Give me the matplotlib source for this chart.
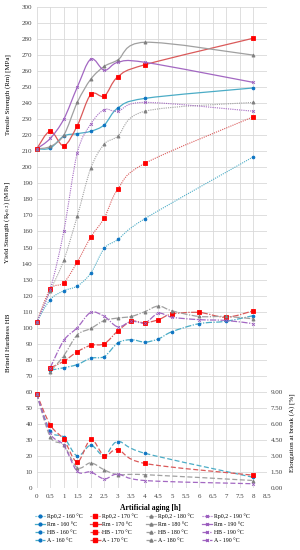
import numpy as np
import matplotlib
matplotlib.use("Agg")
import matplotlib.pyplot as plt
from matplotlib.path import Path
from matplotlib.patches import PathPatch
from matplotlib.lines import Line2D

plt.rcParams['font.family'] = ['Liberation Serif', 'DejaVu Serif']
plt.rcParams['mathtext.fontset'] = 'stix'

# ---------------- data ----------------
t = [0, 0.5, 1, 1.5, 2, 2.5, 3, 4, 8]
t_hb = [0.5, 1, 1.5, 2, 2.5, 3, 3.5, 4, 4.5, 5, 6, 7, 8]
temps = ['160', '170', '180', '190']

rm_160 = [211.5, 212, 219.5, 221, 222.5, 226.5, 237, 243, 249.5]
rm_170 = [211.5, 222.5, 213.5, 226, 245.5, 244.5, 256.5, 264, 280.5]
rm_180 = [211.5, 213, 220, 240.5, 255, 263, 267, 278, 270]
rm_190 = [211.5, 218, 230, 250, 267.5, 260.5, 265.5, 265.5, 253]

rp_160 = [103.5, 117.5, 123, 126, 134, 149.5, 155, 168, 206.5]
rp_170 = [103.5, 124, 128, 141, 156.5, 168.5, 186.5, 202.5, 231.5]
rp_180 = [103.5, 123, 142, 169.5, 199.5, 214.5, 219.5, 235, 240.5]
rp_190 = [103.5, 124, 160, 209, 227, 236, 235, 240.5, 235]

hb_160 = [73.5, 75, 77, 81, 82, 90.5, 92.5, 91, 93, 97.5, 102.5, 104, 107.5]
hb_170 = [75, 79, 85, 89, 90, 98, 104, 103, 105, 108.5, 109.5, 106.5, 110.5]
hb_180 = [72.5, 82.5, 95.5, 99.5, 104.5, 106, 107, 110, 113.5, 110.5, 107, 107, 105.5]
hb_190 = [75, 92, 100, 109.5, 107, 100.5, 104, 103, 109, 106.5, 105, 104.5, 102.5]

a_160 = [8.8, 5.35, 4.75, 3.0, 4.0, 3.0, 4.35, 3.25, 1.0]
a_170 = [8.8, 5.9, 4.55, 2.45, 4.55, 3.0, 3.6, 2.3, 1.2]
a_180 = [8.8, 4.8, 4.0, 1.9, 2.35, 1.7, 1.25, 1.25, 0.7]
a_190 = [8.8, 5.1, 4.0, 1.55, 1.5, 0.85, 1.3, 0.7, 0.4]

x_ticks = [0, 0.5, 1, 1.5, 2, 2.5, 3, 3.5, 4, 4.5, 5, 5.5, 6, 6.5, 7, 7.5, 8, 8.5]
a_ticks = [0, 1.5, 3, 4.5, 6, 7.5, 9]

# ---------------- styles ----------------
line_col = {'160': '#4BACC6', '170': '#DA5A5A', '180': '#A0A0A0', '190': '#A368C2'}
mark_col = {'160': '#0A72C2', '170': '#FF0000', '180': '#7F7F7F', '190': '#9A5CBE'}
mark = {'160': 'o', '170': 's', '180': '^', '190': 'x'}
msize = {'160': 2.0, '170': 3.2, '180': 2.2, '190': 2.0}
styles = {'Rp0,2': ((0, (1, 1)), 0.8), 'Rm': ('-', 0.9),
          'HB': ((0, (5, 1.2, 1, 1.2)), 0.9), 'A': ((0, (4, 2)), 0.9)}


def smooth_path(x, y):
    p = np.column_stack([x, y]).astype(float)
    n = len(p)
    verts = [p[0]]
    codes = [Path.MOVETO]
    for i in range(n - 1):
        p0 = p[i - 1] if i > 0 else p[i]
        p1, p2 = p[i], p[i + 1]
        p3 = p[i + 2] if i + 2 < n else p[i + 1]
        c1 = p1 + (p2 - p0) / 6.0
        c2 = p2 - (p3 - p1) / 6.0
        verts += [c1, c2, p2]
        codes += [Path.CURVE4] * 3
    return Path(verts, codes)


def draw(ax, x, y, temp, kind):
    ls, lw = styles[kind]
    patch = PathPatch(smooth_path(x, y), fill=False, edgecolor=line_col[temp],
                      linestyle=ls, linewidth=lw, zorder=3)
    ax.add_patch(patch)
    ax.plot(x, y, linestyle='none', marker=mark[temp], ms=msize[temp],
            mfc=mark_col[temp], mec=mark_col[temp], mew=0.6, zorder=4, clip_on=False)


fig = plt.figure(figsize=(3.0, 5.5), dpi=100)
ax = fig.add_axes([0.1223, 0.1127, 0.7667, 0.8746])
ax2 = ax.twinx()

series = {
    '160': (rp_160, rm_160, hb_160, a_160),
    '170': (rp_170, rm_170, hb_170, a_170),
    '180': (rp_180, rm_180, hb_180, a_180),
    '190': (rp_190, rm_190, hb_190, a_190),
}
for temp, (rp, rm, hb, a) in series.items():
    draw(ax, t, rp, temp, 'Rp0,2')
    draw(ax, t, rm, temp, 'Rm')
    draw(ax, t_hb, hb, temp, 'HB')
    draw(ax2, t, a, temp, 'A')

ax.set_xlim(0, 8.5)
ax.set_ylim(0, 300)
ax2.set_ylim(0, 45)
ax.set_xticks(x_ticks)
ax.set_xticklabels([('%g' % v) for v in x_ticks])
ax.set_yticks(np.arange(0, 301, 10))
ax2.set_yticks(a_ticks)
ax2.set_yticklabels(['%.2f' % v for v in a_ticks])
ax.grid(True, color='#D9D9D9', linewidth=0.6)
ax.set_axisbelow(True)
for a_ in (ax, ax2):
    for s in a_.spines.values():
        s.set_visible(False)
    a_.tick_params(length=0, labelsize=5, colors='#404040', pad=3)
ax.tick_params(axis='x', pad=4)

fig.text(0.027, 0.828, 'Tensile Strength (Rm) [MPa]', rotation=90, ha='center', va='center', fontsize=5)
fig.text(0.027, 0.596, 'Yield Strength (R$_{\\mathrm{p0,2}}$) [MPa]', rotation=90, ha='center', va='center', fontsize=5)
fig.text(0.027, 0.376, 'Brinell Hardness HB', rotation=90, ha='center', va='center', fontsize=5)
fig.text(0.973, 0.213, 'Elongation at break (A) [%]', rotation=90, ha='center', va='center', fontsize=5)
fig.text(0.503, 0.0764, 'Artificial aging [h]', ha='center', va='center', fontsize=5.5, fontweight='bold')

handles, labels = [], []
for temp in temps:
    for kind in ['Rp0,2', 'Rm', 'HB', 'A']:
        ls, lw = styles[kind]
        handles.append(Line2D([], [], color=line_col[temp], linestyle=ls, linewidth=lw,
                              marker=mark[temp], ms=msize[temp], mfc=mark_col[temp], mec=mark_col[temp]))
        labels.append('%s - %s °C' % (kind, temp))
fig.legend(handles, labels, ncol=4, loc='upper left', bbox_to_anchor=(0.115, 0.066),
           frameon=False, fontsize=4.2, handlelength=1.8, handletextpad=0.3,
           columnspacing=1.3, labelspacing=0.5, borderaxespad=0, borderpad=0)

fig.savefig('out.png', dpi=100)
